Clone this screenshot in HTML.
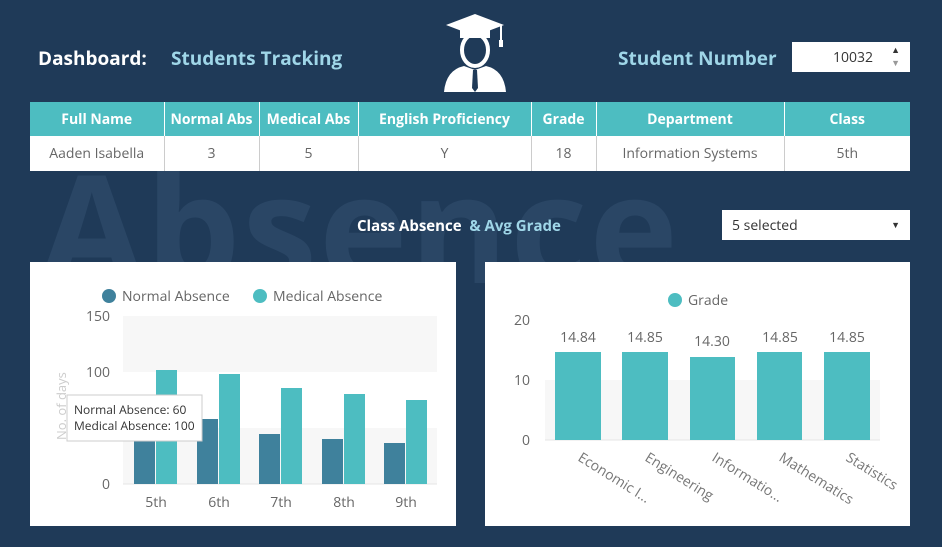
<!DOCTYPE html>
<html><head><meta charset="utf-8"><style>
*{margin:0;padding:0;box-sizing:border-box}
body{width:942px;height:547px;background:#1f3a58;position:relative;overflow:hidden;font-family:"Open Sans","Liberation Sans","DejaVu Sans",sans-serif}
.a{position:absolute}
.wm{position:absolute;left:40px;top:150px;font-size:150px;font-weight:bold;color:#2a4665;letter-spacing:2px;line-height:1}
table{border-collapse:collapse;position:absolute;left:30px;top:102px;width:880px}
th{background:#4dbdc1;color:#fff;font-size:14px;font-weight:bold;height:34px;border-right:1px solid #fff}
td{background:#fff;color:#666;font-size:14px;text-align:center;height:35px;border-right:1px solid #ccc}
.panel{position:absolute;background:#fff}
</style></head><body>
<div class="wm">Absence<br>Gr</div>
<div class="a" style="left:38px;top:45px;color:#fff;font-size:19px;font-weight:bold">Dashboard:</div>
<div class="a" style="left:171px;top:45px;color:#9fd6e8;font-size:19px;font-weight:bold">Students Tracking</div>
<svg class="a" style="left:440px;top:10px" width="70" height="84" viewBox="0 0 70 84">
<polygon points="35,4 64,15 35,26 6,15" fill="#fff"/>
<rect x="20" y="18" width="30" height="10" fill="#fff"/>
<line x1="61" y1="15" x2="61" y2="32" stroke="#fff" stroke-width="2"/><rect x="59" y="30" width="4" height="7" fill="#fff"/>
<ellipse cx="35" cy="40" rx="13" ry="16" fill="none" stroke="#fff" stroke-width="4"/>
<path d="M4,82 Q6,60 24,56 L35,60 L46,56 Q64,60 66,82 Z" fill="#fff"/>
<polygon points="33,60 37,60 38,78 35,82 32,78" fill="#1f3a58"/>
</svg>
<div class="a" style="left:618px;top:45px;color:#9fd6e8;font-size:19px;font-weight:bold">Student Number</div>
<div class="a" style="left:792px;top:42px;width:118px;height:30px;background:#fff;font-size:14px;color:#333"><span class="a" style="right:37px;top:6px">10032</span><span class="a" style="right:10px;top:1px;font-size:9px">▲</span><span class="a" style="right:10px;top:14px;font-size:9px;color:#999">▼</span></div>
<table><tr><th style="width:134px">Full Name</th><th style="width:95px">Normal Abs</th><th style="width:99px">Medical Abs</th><th style="width:173px">English Proficiency</th><th style="width:65px">Grade</th><th style="width:188px">Department</th><th style="border:none">Class</th></tr>
<tr><td>Aaden Isabella</td><td>3</td><td>5</td><td>Y</td><td>18</td><td>Information Systems</td><td style="border:none">5th</td></tr></table>
<div class="a" style="left:357px;top:216px;color:#fff;font-size:15px;font-weight:bold">Class Absence <span style="color:#9fd6e8">&nbsp;&amp; Avg Grade</span></div>
<div class="a" style="left:722px;top:210px;width:188px;height:30px;background:#fff;font-size:14px;color:#333"><span class="a" style="left:10px;top:6px">5 selected</span><span class="a" style="right:10px;top:8px;font-size:9px">▼</span></div>

<div class="panel" style="left:30px;top:262px;width:426px;height:264px"></div>
<svg class="a" style="left:0;top:0" width="942" height="547" font-family="Open Sans,Liberation Sans,sans-serif">
<rect x="123" y="316" width="314" height="56" fill="#f7f7f7"/>
<rect x="123" y="428" width="314" height="56" fill="#f7f7f7"/>
<line x1="123" y1="484" x2="437" y2="484" stroke="#e6e6e6"/>
<circle cx="109" cy="296" r="7" fill="#3f819c"/><text x="122" y="301" font-size="14" fill="#666">Normal Absence</text>
<circle cx="260" cy="296" r="7" fill="#4dbdc1"/><text x="273" y="301" font-size="14" fill="#666">Medical Absence</text>
<g font-size="14" fill="#666" text-anchor="end"><text x="110" y="321">150</text><text x="110" y="377">100</text><text x="110" y="489">0</text></g>
<text transform="translate(66,440) rotate(-90)" font-size="13" fill="#ccc">No. of days</text>
<g fill="#3f819c"><rect x="134" y="417" width="21" height="67"/><rect x="197" y="419" width="21" height="65"/><rect x="259" y="434" width="21" height="50"/><rect x="322" y="439" width="21" height="45"/><rect x="384" y="443" width="21" height="41"/></g>
<g fill="#4dbdc1"><rect x="156" y="370" width="21" height="114"/><rect x="219" y="374" width="21" height="110"/><rect x="281" y="388" width="21" height="96"/><rect x="344" y="394" width="21" height="90"/><rect x="406" y="400" width="21" height="84"/></g>
<g font-size="14" fill="#666" text-anchor="middle"><text x="156" y="507">5th</text><text x="219" y="507">6th</text><text x="281" y="507">7th</text><text x="344" y="507">8th</text><text x="406" y="507">9th</text></g>
<rect x="67" y="395" width="135" height="46" fill="#fff" stroke="#ccc"/>
<text x="74" y="414" font-size="12" fill="#333">Normal Absence: 60</text>
<text x="74" y="430" font-size="12" fill="#333">Medical Absence: 100</text>

<rect x="485" y="262" width="425" height="264" fill="#fff"/>
<rect x="545" y="380" width="335" height="60" fill="#f7f7f7"/>
<line x1="545" y1="440" x2="880" y2="440" stroke="#e6e6e6"/>
<circle cx="675" cy="300" r="7" fill="#4dbdc1"/><text x="688" y="305" font-size="14" fill="#666">Grade</text>
<g font-size="14" fill="#666" text-anchor="end"><text x="530" y="325">20</text><text x="530" y="385">10</text><text x="530" y="445">0</text></g>
<g fill="#4dbdc1"><rect x="555" y="352" width="46" height="88"/><rect x="622" y="352" width="46" height="88"/><rect x="690" y="357" width="45" height="83"/><rect x="757" y="352" width="45" height="88"/><rect x="824" y="352" width="46" height="88"/></g>
<g font-size="14" fill="#666" text-anchor="middle"><text x="578" y="342">14.84</text><text x="645" y="342">14.85</text><text x="712" y="346">14.30</text><text x="780" y="342">14.85</text><text x="847" y="342">14.85</text></g>
<g font-size="14" fill="#777"><text transform="translate(577,460) rotate(32)">Economic I...</text><text transform="translate(644,460) rotate(32)">Engineering</text><text transform="translate(711,460) rotate(32)">Informatio...</text><text transform="translate(778,460) rotate(32)">Mathematics</text><text transform="translate(845,460) rotate(32)">Statistics</text></g>
</svg>
</body></html>
